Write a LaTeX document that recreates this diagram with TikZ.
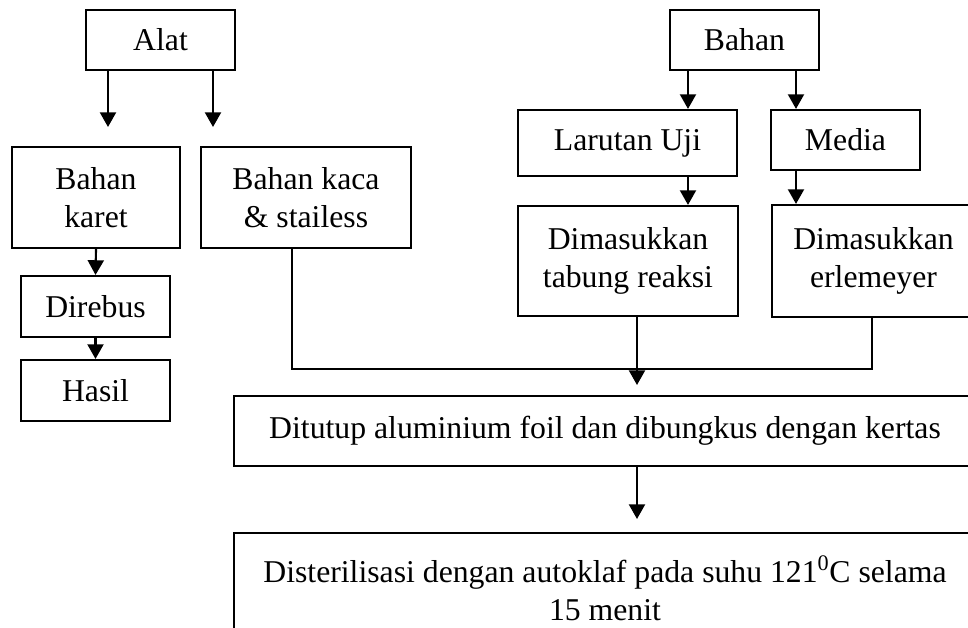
\documentclass[tikz,border=0pt]{standalone}
\usepackage{fontspec}
\setmainfont{Liberation Serif}
\usetikzlibrary{arrows.meta}
\tikzset{
  box/.style={draw, line width=1.6pt, inner sep=0pt, align=center,
    font=\fontsize{23.8pt}{28.5pt}\selectfont},
  arr/.style={line width=1.6pt, -{Triangle[length=11pt, width=12pt]}},
  link/.style={line width=1.6pt}
}
\begin{document}
\begin{tikzpicture}[x=0.75pt, y=-0.75pt]
\useasboundingbox (0,0) rectangle (968,628);
\clip (0,0) rectangle (968,628);

% top-level boxes
\node[box, minimum width=149*0.75pt, minimum height=60*0.75pt] (alat) at (160.5,40) {Alat};
\node[box, minimum width=149*0.75pt, minimum height=60*0.75pt] (bahan) at (744.5,40) {Bahan};

% tools branch
\node[box, minimum width=168*0.75pt, minimum height=101*0.75pt] (karet) at (96,197.5) {Bahan\\karet};
\node[box, minimum width=210*0.75pt, minimum height=101*0.75pt] (kaca) at (306,197.5) {Bahan kaca\\\& stailess};
\node[box, minimum width=149*0.75pt, minimum height=61*0.75pt] (direbus) at (95.5,306.5) {Direbus};
\node[box, minimum width=149*0.75pt, minimum height=61*0.75pt] (hasil) at (95.5,390.5) {Hasil};

% materials branch
\node[box, minimum width=219*0.75pt, minimum height=66*0.75pt] (larutan) at (627.5,143) {Larutan Uji};
\node[box, minimum width=149*0.75pt, minimum height=60*0.75pt] (media) at (845.5,140) {Media};
\node[box, minimum width=220*0.75pt, minimum height=110*0.75pt] (diml) at (628,261) {Dimasukkan\\tabung reaksi};
\node[box, minimum width=203*0.75pt, minimum height=112*0.75pt] (dimr) at (873.5,261) {Dimasukkan\\erlemeyer};

% common steps
\node[box, minimum width=742*0.75pt, minimum height=70*0.75pt] (tutup) at (605,431) {Ditutup aluminium foil dan dibungkus dengan kertas};
\node[box, minimum width=742*0.75pt, minimum height=110*0.75pt] (steril) at (605,588) {Disterilisasi dengan autoklaf pada suhu 121\textsuperscript{0}C selama\\15 menit};

% free arrow ends and junction points
\coordinate (tipA) at (108,127);
\coordinate (tipB) at (213,127);
\coordinate (join) at (637,369);
\coordinate (tipC) at (637,385);
\coordinate (tipD) at (637,519);

% arrows
\draw[arr] (alat.south -| tipA) -- (tipA);
\draw[arr] (alat.south -| tipB) -- (tipB);
\draw[arr] (bahan.south -| 688,0) -- (larutan.north -| 688,0);
\draw[arr] (bahan.south -| 796,0) -- (media.north -| 796,0);
\draw[arr] (larutan.south -| 688,0) -- (diml.north -| 688,0);
\draw[arr] (media.south -| 796,0) -- (dimr.north -| 796,0);
\draw[arr] (karet.south) -- (direbus.north);
\draw[arr] (direbus.south) -- (hasil.north);

% merging lines
\draw[link] (kaca.south -| 292,0) |- (join) -| (dimr.south -| 872,0);
\draw[arr] (diml.south -| join) -- (tipC);
\draw[arr] (tutup.south -| tipD) -- (tipD);
\end{tikzpicture}
\end{document}
